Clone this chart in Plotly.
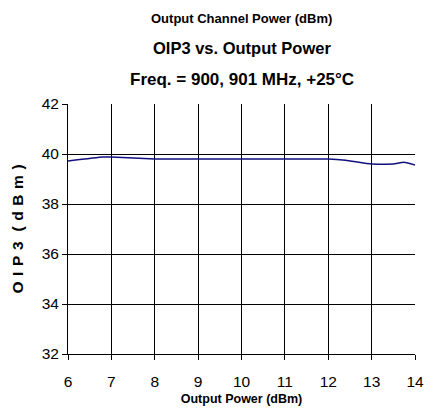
import plotly.graph_objects as go

output_power = [6.0, 6.8, 7.0, 8.0, 9.0, 10.0, 11.0, 12.0, 12.4, 13.0, 13.5, 13.75, 14.0]
oip3 = [39.72, 39.88, 39.88, 39.8, 39.8, 39.8, 39.8, 39.8, 39.75, 39.6, 39.6, 39.67, 39.56]

x_ticks = [6, 7, 8, 9, 10, 11, 12, 13, 14]
y_ticks = [32, 34, 36, 38, 40, 42]

base = "Liberation Sans, Arial"

W, H = 428, 412
L, R, T, B = 68, 13, 104, 58

fig = go.Figure()
fig.add_trace(go.Scatter(x=output_power, y=oip3, mode="lines",
                         line=dict(color="#10107f", width=1.5, shape="spline", smoothing=0.4),
                         showlegend=False, hoverinfo="skip", cliponaxis=False))

fig.update_layout(
    width=W, height=H,
    margin=dict(l=L, r=R, t=T, b=B),
    paper_bgcolor="white", plot_bgcolor="white",
    font=dict(family=base, color="black"),
)
titles = [
    ("<b>Output Channel Power (dBm)</b>", 18, 13),
    ("<b>OIP3 vs. Output Power</b>", 48, 16.5),
    ("<b>Freq. = 900, 901 MHz, +25°C</b>", 80, 17),
]
plot_h = H - T - B
for text, ypix, size in titles:
    yp = 1 + (T - ypix) / plot_h
    fig.add_annotation(text=text, x=0.5, y=yp, xref="paper", yref="paper",
                       xanchor="center", yanchor="middle", showarrow=False,
                       font=dict(size=size, family=base, color="black"))

ytitle = "\u200a ".join(list("OIP3")) + "\u200a  " + "\u200a ".join(list("(dBm)"))

fig.update_xaxes(range=[6, 14], tickvals=x_ticks, ticktext=[str(v) for v in x_ticks],
                 showgrid=True, gridcolor="black", gridwidth=1,
                 showline=True, linecolor="black", linewidth=1, mirror=False,
                 ticks="outside", ticklen=5, tickcolor="black",
                 tickfont=dict(size=15.5, family=base), ticklabelstandoff=8,
                 title=dict(text="<b>Output Power (dBm)</b>", font=dict(size=12.5, family=base), standoff=5),
                 zeroline=False, automargin=False)
fig.update_yaxes(range=[32, 42], tickvals=y_ticks, ticktext=[str(v) for v in y_ticks],
                 showgrid=True, gridcolor="black", gridwidth=1,
                 showline=True, linecolor="black", linewidth=1,
                 ticks="outside", ticklen=5, tickcolor="black",
                 tickfont=dict(size=15.5, family=base),
                 title=dict(text="<b>" + ytitle + "</b>", font=dict(size=15.5, family=base), standoff=14),
                 zeroline=False, automargin=False)

fig.write_html("out.html", config={"displayModeBar": False},
               post_script="document.body.style.margin='0';document.body.style.overflow='hidden';")
